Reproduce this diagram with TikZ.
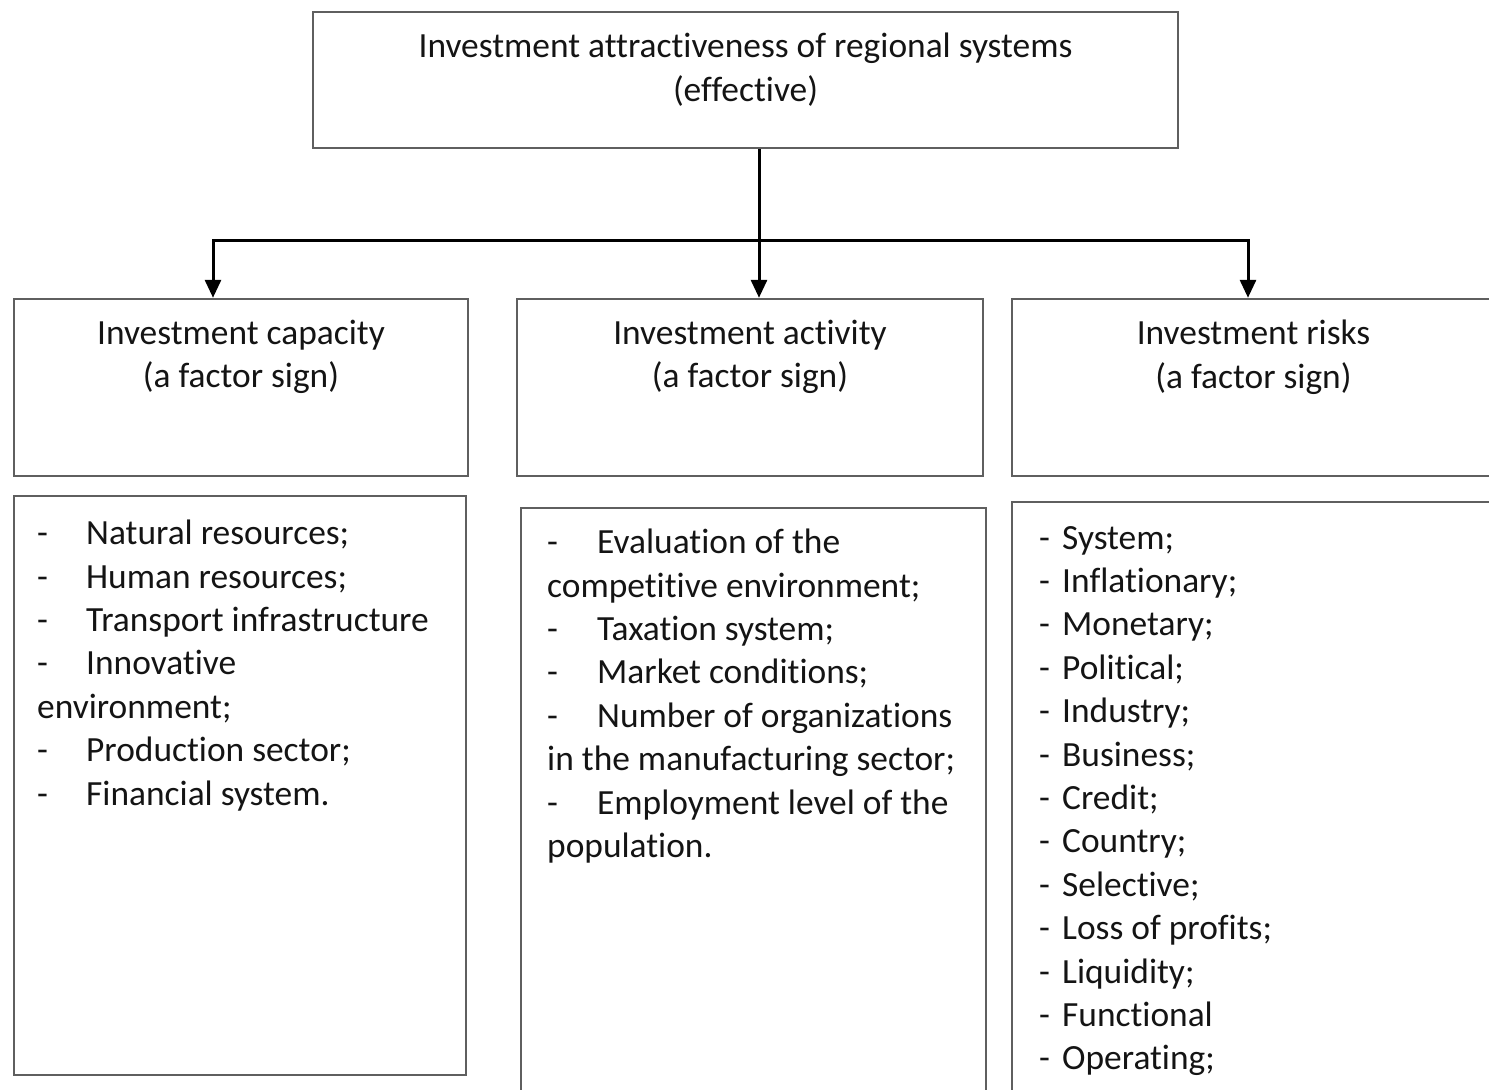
\documentclass[tikz,border=0pt]{standalone}
\usepackage{fontspec}
\setmainfont{Carlito}[Ligatures=NoCommon]
\usetikzlibrary{arrows.meta,positioning}
\definecolor{boxgray}{RGB}{95,95,95}
\definecolor{inkblack}{RGB}{20,20,20}
\newcommand{\dashtab}[1]{\makebox[#1][l]{-}}
\tikzset{
  box/.style={draw=boxgray,line width=1.2pt,inner sep=0pt},
  boxtitle/.style={align=center,anchor=north,inner sep=0pt,text=inkblack,
    font=\fontsize{17.7}{21.7}\selectfont},
  itemlist/.style={align=left,anchor=north west,inner sep=0pt,text=inkblack,
    font=\fontsize{17.7}{21.7}\selectfont},
  feed/.style={line width=1.5pt,-{Triangle[width=8pt,length=9pt]}}
}
\begin{document}
\begin{tikzpicture}[x=0.5pt,y=-0.5pt]
\useasboundingbox (0,0) rectangle (1489,1090);
% top level
\node[box,minimum width=432.5pt,minimum height=68pt] (effect) at (745.5,80) {};
\node[boxtitle,below=11pt of effect.north] (effecttxt)
  {Investment attractiveness of regional systems\\(effective)};
% factor boxes
\node[box,minimum width=227pt,minimum height=88.5pt] (capacity) at (241,387.5) {};
\node[box,minimum width=233pt,minimum height=88.5pt] (activity) at (750,387.5) {};
\node[box,minimum width=241.5pt,minimum height=88.5pt] (risks) at (1253.5,387.5) {};
\node[boxtitle,below=11pt of capacity.north] (capacitytxt)
  {Investment capacity\\(a factor sign)};
\node[boxtitle,below=11pt of activity.north] (activitytxt)
  {Investment activity\\(a factor sign)};
\node[boxtitle,below=11pt of risks.north] (riskstxt)
  {Investment risks\\(a factor sign)};
% lists
\node[box,minimum width=226pt,minimum height=289.5pt] (capacitybox) at (240,785.5) {};
\node[box,minimum width=232.5pt,minimum height=296pt] (activitybox) at (753.5,804) {};
\node[box,minimum width=244pt,minimum height=299pt] (risksbox) at (1256,801) {};
\node[itemlist] (capacitylist) at ([xshift=12pt,yshift=-12.5pt]capacitybox.north west)
  {\dashtab{24.5pt}Natural resources;\\
   \dashtab{24.5pt}Human resources;\\
   \dashtab{24.5pt}Transport infrastructure\\
   \dashtab{24.5pt}Innovative\\
   environment;\\
   \dashtab{24.5pt}Production sector;\\
   \dashtab{24.5pt}Financial system.};
\node[itemlist] (activitylist) at ([xshift=13.5pt,yshift=-11pt]activitybox.north west)
  {\dashtab{25pt}Evaluation of the\\
   competitive environment;\\
   \dashtab{25pt}Taxation system;\\
   \dashtab{25pt}Market conditions;\\
   \dashtab{25pt}Number of organizations\\
   in the manufacturing sector;\\
   \dashtab{25pt}Employment level of the\\
   population.};
\node[itemlist] (riskslist) at ([xshift=14pt,yshift=-12.5pt]risksbox.north west)
  {\dashtab{11.5pt}System;\\
   \dashtab{11.5pt}Inflationary;\\
   \dashtab{11.5pt}Monetary;\\
   \dashtab{11.5pt}Political;\\
   \dashtab{11.5pt}Industry;\\
   \dashtab{11.5pt}Business;\\
   \dashtab{11.5pt}Credit;\\
   \dashtab{11.5pt}Country;\\
   \dashtab{11.5pt}Selective;\\
   \dashtab{11.5pt}Loss of profits;\\
   \dashtab{11.5pt}Liquidity;\\
   \dashtab{11.5pt}Functional\\
   \dashtab{11.5pt}Operating;};
% connectors
\coordinate (fork) at (759,241);
\draw[feed] (effect.south -| fork) -- (activity.north -| fork);
\draw[feed] (fork) -| ([xshift=-14pt]capacity.north);
\draw[feed] (fork) -| ([xshift=-2.75pt]risks.north);
\end{tikzpicture}
\end{document}
